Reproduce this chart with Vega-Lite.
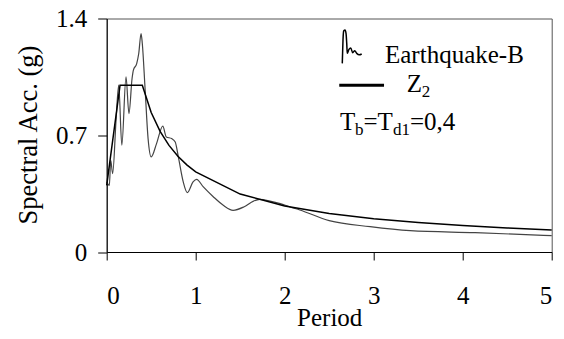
{
  "$schema": "https://vega.github.io/schema/vega-lite/v6.json",
  "width": 445,
  "height": 233.5,
  "autosize": {"type": "none"},
  "padding": {"left": 106.7, "top": 18.5, "right": 12.3, "bottom": 87},
  "background": "white",
  "config": {
    "view": {"stroke": "#555555", "strokeWidth": 1},
    "font": "Liberation Serif",
    "axis": {
      "labelFont": "Liberation Serif",
      "titleFont": "Liberation Serif",
      "labelColor": "black",
      "titleColor": "black",
      "domainColor": "black",
      "tickColor": "black",
      "grid": false,
      "titleFontWeight": "normal",
      "labelFontSize": 25,
      "titleFontSize": 25
    }
  },
  "datasets": {
    "eq": [
      {"period": 0, "acc": 0.42},
      {"period": 0.03, "acc": 0.4},
      {"period": 0.045, "acc": 0.55},
      {"period": 0.067, "acc": 0.47},
      {"period": 0.105, "acc": 0.79},
      {"period": 0.135, "acc": 1.0},
      {"period": 0.17, "acc": 0.64},
      {"period": 0.217, "acc": 1.05},
      {"period": 0.25, "acc": 0.83},
      {"period": 0.285, "acc": 1.04},
      {"period": 0.3, "acc": 1.09},
      {"period": 0.337, "acc": 1.13},
      {"period": 0.36, "acc": 1.19},
      {"period": 0.386, "acc": 1.31},
      {"period": 0.4, "acc": 1.25},
      {"period": 0.43, "acc": 0.99},
      {"period": 0.465, "acc": 0.68},
      {"period": 0.5, "acc": 0.57},
      {"period": 0.56, "acc": 0.65},
      {"period": 0.63, "acc": 0.755},
      {"period": 0.67, "acc": 0.69},
      {"period": 0.73, "acc": 0.68},
      {"period": 0.77, "acc": 0.66},
      {"period": 0.805, "acc": 0.57},
      {"period": 0.86, "acc": 0.42},
      {"period": 0.906, "acc": 0.356},
      {"period": 0.97, "acc": 0.42},
      {"period": 1.01, "acc": 0.436},
      {"period": 1.086, "acc": 0.39},
      {"period": 1.2, "acc": 0.33},
      {"period": 1.31, "acc": 0.28},
      {"period": 1.42, "acc": 0.25},
      {"period": 1.54, "acc": 0.27},
      {"period": 1.65, "acc": 0.305},
      {"period": 1.72, "acc": 0.315},
      {"period": 1.835, "acc": 0.305},
      {"period": 1.95, "acc": 0.29},
      {"period": 2.06, "acc": 0.27},
      {"period": 2.17, "acc": 0.252},
      {"period": 2.5, "acc": 0.188},
      {"period": 2.96, "acc": 0.152},
      {"period": 3.41, "acc": 0.128},
      {"period": 4.14, "acc": 0.116},
      {"period": 5.0, "acc": 0.098}
    ],
    "z2": [
      {"period": 0, "acc": 0.4},
      {"period": 0.15, "acc": 1.0},
      {"period": 0.4, "acc": 1.0},
      {"period": 0.5, "acc": 0.8365},
      {"period": 0.6, "acc": 0.723},
      {"period": 0.7, "acc": 0.6391},
      {"period": 0.8, "acc": 0.5743},
      {"period": 0.9, "acc": 0.5227},
      {"period": 1.0, "acc": 0.4805},
      {"period": 1.5, "acc": 0.3474},
      {"period": 2.0, "acc": 0.276},
      {"period": 2.5, "acc": 0.2308},
      {"period": 3.0, "acc": 0.1995},
      {"period": 3.5, "acc": 0.1763},
      {"period": 4.0, "acc": 0.1585},
      {"period": 4.5, "acc": 0.1442},
      {"period": 5.0, "acc": 0.1326}
    ],
    "icon": [
      {"period": 2.647, "acc": 1.131},
      {"period": 2.655, "acc": 1.271},
      {"period": 2.663, "acc": 1.325},
      {"period": 2.678, "acc": 1.331},
      {"period": 2.689, "acc": 1.311},
      {"period": 2.697, "acc": 1.251},
      {"period": 2.703, "acc": 1.191},
      {"period": 2.722, "acc": 1.215},
      {"period": 2.742, "acc": 1.223},
      {"period": 2.764, "acc": 1.195},
      {"period": 2.787, "acc": 1.207},
      {"period": 2.809, "acc": 1.191},
      {"period": 2.838, "acc": 1.182},
      {"period": 2.865, "acc": 1.187}
    ],
    "iconline": [
      {"period": 2.613, "acc": 1.0},
      {"period": 3.116, "acc": 1.0}
    ],
    "labels": [
      {"period": 3.127, "acc": 1.133, "t": "Earthquake-B"},
      {"period": 3.371, "acc": 0.961, "t": "Z"},
      {"period": 2.621, "acc": 0.731, "t": "T"},
      {"period": 2.885, "acc": 0.731, "t": "=T"},
      {"period": 3.408, "acc": 0.731, "t": "=0,4"}
    ],
    "subs": [
      {"period": 3.539, "acc": 0.929, "t": "2"},
      {"period": 2.79, "acc": 0.701, "t": "b"},
      {"period": 3.217, "acc": 0.701, "t": "d1"}
    ]
  },
  "encoding": {
    "x": {
      "field": "period",
      "type": "quantitative",
      "scale": {"domain": [0, 5], "nice": false},
      "axis": {
        "title": "Period",
        "values": [0, 1, 2, 3, 4, 5],
        "tickSize": 8,
        "labelPadding": 23,
        "titleY": 73,
        "titleBaseline": "alphabetic"
      }
    },
    "y": {
      "field": "acc",
      "type": "quantitative",
      "scale": {"domain": [0, 1.4], "nice": false},
      "axis": {
        "title": "Spectral Acc. (g)",
        "values": [0, 0.7, 1.4],
        "format": ".1~f",
        "tickSize": 9,
        "labelPadding": 11,
        "titleFontSize": 26.5,
        "titleX": -78,
        "titleY": 116,
        "titleAlign": "center",
        "titleBaseline": "middle",
        "titleAngle": -90
      }
    }
  },
  "layer": [
    {
      "data": {"name": "eq"},
      "mark": {"type": "line", "interpolate": "monotone", "color": "#444444", "strokeWidth": 1.2}
    },
    {
      "data": {"name": "z2"},
      "mark": {"type": "line", "color": "black", "strokeWidth": 1.5}
    },
    {
      "data": {"name": "icon"},
      "mark": {"type": "line", "interpolate": "monotone", "color": "black", "strokeWidth": 1.5}
    },
    {
      "data": {"name": "iconline"},
      "mark": {"type": "line", "color": "black", "strokeWidth": 3}
    },
    {
      "data": {"name": "labels"},
      "mark": {"type": "text", "align": "left", "baseline": "alphabetic", "fontSize": 25, "font": "Liberation Serif", "color": "black"},
      "encoding": {"text": {"field": "t"}}
    },
    {
      "data": {"name": "subs"},
      "mark": {"type": "text", "align": "left", "baseline": "alphabetic", "fontSize": 17, "font": "Liberation Serif", "color": "black"},
      "encoding": {"text": {"field": "t"}}
    }
  ]
}
